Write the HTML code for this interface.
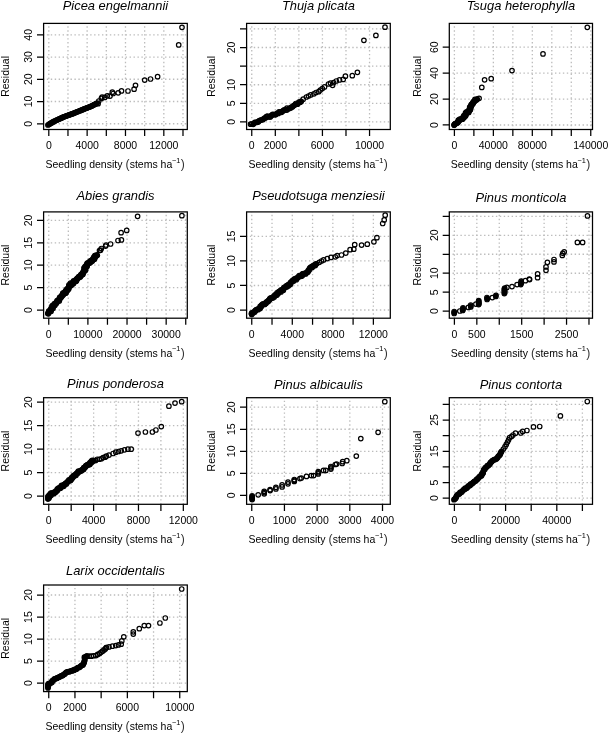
<!DOCTYPE html><html><head><meta charset="utf-8"><style>html,body{margin:0;padding:0;background:#fff;}svg{display:block;will-change:transform;}text{font-family:"Liberation Sans",sans-serif;fill:#000;}</style></head><body>
<svg width="609" height="734" viewBox="0 0 609 734">
<rect width="609" height="734" fill="#fff"/>
<path d="M48.8 23.4V129.5M67.97 23.4V129.5M87.14 23.4V129.5M106.31 23.4V129.5M125.48 23.4V129.5M144.65 23.4V129.5M163.82 23.4V129.5M182.99 23.4V129.5" stroke="#bcbcbc" stroke-width="1.3" stroke-dasharray="1.4 2.54" stroke-dashoffset="1.0" fill="none"/>
<path d="M43.6 123.75H187.3M43.6 101.51H187.3M43.6 79.27H187.3M43.6 57.03H187.3M43.6 34.79H187.3" stroke="#bcbcbc" stroke-width="1.3" stroke-dasharray="1.4 2.54" stroke-dashoffset="0.7" fill="none"/>
<path d="M47.9 125 L53.9 121.4 L63.7 116.9 L73.6 113.3 L83.4 109.3 L91.3 106.2 L97.2 103.1" stroke="#000" stroke-width="2.6" stroke-linecap="round" stroke-linejoin="round" fill="none"/>
<g fill="none" stroke="#000" stroke-width="1.2"><circle cx="182" cy="27.3" r="2.25"/><circle cx="178.7" cy="44.9" r="2.25"/><circle cx="157.6" cy="76.7" r="2.25"/><circle cx="150.5" cy="79" r="2.25"/><circle cx="144.7" cy="80.1" r="2.25"/><circle cx="135.5" cy="85.3" r="2.25"/><circle cx="134.1" cy="89.2" r="2.25"/><circle cx="128" cy="91" r="2.25"/><circle cx="121.5" cy="90.9" r="2.25"/><circle cx="118.2" cy="92.8" r="2.25"/><circle cx="113.2" cy="93.5" r="2.25"/><circle cx="112.3" cy="92.2" r="2.25"/><circle cx="110" cy="96.1" r="2.25"/><circle cx="107.3" cy="95.8" r="2.25"/><circle cx="104.7" cy="97.4" r="2.25"/><circle cx="102.1" cy="97.1" r="2.25"/><circle cx="101.4" cy="98.4" r="2.25"/><circle cx="98.8" cy="101" r="2.25"/><circle cx="98.1" cy="103.7" r="2.25"/><circle cx="47.9" cy="125" r="2.25"/><circle cx="48.76" cy="124.49" r="2.25"/><circle cx="49.61" cy="123.97" r="2.25"/><circle cx="50.47" cy="123.46" r="2.25"/><circle cx="51.33" cy="122.94" r="2.25"/><circle cx="52.19" cy="122.43" r="2.25"/><circle cx="53.04" cy="121.91" r="2.25"/><circle cx="53.9" cy="121.4" r="2.25"/><circle cx="54.79" cy="120.99" r="2.25"/><circle cx="55.68" cy="120.58" r="2.25"/><circle cx="56.57" cy="120.17" r="2.25"/><circle cx="57.46" cy="119.76" r="2.25"/><circle cx="58.35" cy="119.35" r="2.25"/><circle cx="59.25" cy="118.95" r="2.25"/><circle cx="60.14" cy="118.54" r="2.25"/><circle cx="61.03" cy="118.13" r="2.25"/><circle cx="61.92" cy="117.72" r="2.25"/><circle cx="62.81" cy="117.31" r="2.25"/><circle cx="63.7" cy="116.9" r="2.25"/><circle cx="64.6" cy="116.57" r="2.25"/><circle cx="65.5" cy="116.25" r="2.25"/><circle cx="66.4" cy="115.92" r="2.25"/><circle cx="67.3" cy="115.59" r="2.25"/><circle cx="68.2" cy="115.26" r="2.25"/><circle cx="69.1" cy="114.94" r="2.25"/><circle cx="70" cy="114.61" r="2.25"/><circle cx="70.9" cy="114.28" r="2.25"/><circle cx="71.8" cy="113.95" r="2.25"/><circle cx="72.7" cy="113.63" r="2.25"/><circle cx="73.6" cy="113.3" r="2.25"/><circle cx="74.49" cy="112.94" r="2.25"/><circle cx="75.38" cy="112.57" r="2.25"/><circle cx="76.27" cy="112.21" r="2.25"/><circle cx="77.16" cy="111.85" r="2.25"/><circle cx="78.05" cy="111.48" r="2.25"/><circle cx="78.95" cy="111.12" r="2.25"/><circle cx="79.84" cy="110.75" r="2.25"/><circle cx="80.73" cy="110.39" r="2.25"/><circle cx="81.62" cy="110.03" r="2.25"/><circle cx="82.51" cy="109.66" r="2.25"/><circle cx="83.4" cy="109.3" r="2.25"/><circle cx="84.28" cy="108.96" r="2.25"/><circle cx="85.16" cy="108.61" r="2.25"/><circle cx="86.03" cy="108.27" r="2.25"/><circle cx="86.91" cy="107.92" r="2.25"/><circle cx="87.79" cy="107.58" r="2.25"/><circle cx="88.67" cy="107.23" r="2.25"/><circle cx="89.54" cy="106.89" r="2.25"/><circle cx="90.42" cy="106.54" r="2.25"/><circle cx="91.3" cy="106.2" r="2.25"/><circle cx="92.14" cy="105.76" r="2.25"/><circle cx="92.99" cy="105.31" r="2.25"/><circle cx="93.83" cy="104.87" r="2.25"/><circle cx="94.67" cy="104.43" r="2.25"/><circle cx="95.51" cy="103.99" r="2.25"/><circle cx="96.36" cy="103.54" r="2.25"/><circle cx="97.2" cy="103.1" r="2.25"/></g>
<path d="M48.8 129.5v6.6M67.97 129.5v6.6M87.14 129.5v6.6M106.31 129.5v6.6M125.48 129.5v6.6M144.65 129.5v6.6M163.82 129.5v6.6M182.99 129.5v6.6M43.6 123.75h-6.6M43.6 101.51h-6.6M43.6 79.27h-6.6M43.6 57.03h-6.6M43.6 34.79h-6.6" stroke="#000" stroke-width="1.25" fill="none"/>
<rect x="43.6" y="23.4" width="143.7" height="106.1" stroke="#000" stroke-width="1.25" fill="none"/>
<text x="48.8" y="149.2" font-size="10.5" text-anchor="middle">0</text>
<text x="87.14" y="149.2" font-size="10.5" text-anchor="middle">4000</text>
<text x="125.48" y="149.2" font-size="10.5" text-anchor="middle">8000</text>
<text x="163.82" y="149.2" font-size="10.5" text-anchor="middle">12000</text>
<text transform="translate(31.8 123.75) rotate(-90)" font-size="10.5" text-anchor="middle">0</text>
<text transform="translate(31.8 101.51) rotate(-90)" font-size="10.5" text-anchor="middle">10</text>
<text transform="translate(31.8 79.27) rotate(-90)" font-size="10.5" text-anchor="middle">20</text>
<text transform="translate(31.8 57.03) rotate(-90)" font-size="10.5" text-anchor="middle">30</text>
<text transform="translate(31.8 34.79) rotate(-90)" font-size="10.5" text-anchor="middle">40</text>
<text x="115.45" y="10.2" font-size="12.9" font-style="italic" text-anchor="middle">Picea engelmannii</text>
<text y="168.1" font-size="10.5"><tspan x="45.4">Seedling density</tspan><tspan x="125.5" font-size="12.2" fill="#333">(</tspan><tspan x="129.7">stems ha</tspan><tspan x="172" y="162.7" font-size="7.35">−1</tspan><tspan x="180.8" y="168.1" font-size="12.2" fill="#333">)</tspan></text>
<text transform="translate(9.2 76.45) rotate(-90)" font-size="10.5" text-anchor="middle">Residual</text>
<path d="M251.75 23.4V129.5M275.31 23.4V129.5M298.87 23.4V129.5M322.43 23.4V129.5M345.99 23.4V129.5M369.55 23.4V129.5" stroke="#bcbcbc" stroke-width="1.3" stroke-dasharray="1.4 2.54" stroke-dashoffset="1.0" fill="none"/>
<path d="M246.6 121.95H390.3M246.6 103.34H390.3M246.6 84.73H390.3M246.6 66.12H390.3M246.6 47.51H390.3M246.6 28.9H390.3" stroke="#bcbcbc" stroke-width="1.3" stroke-dasharray="1.4 2.54" stroke-dashoffset="0.7" fill="none"/>
<path d="M250.9 124.9 L265.7 117.8 L285.4 109.9 L301.1 101.6" stroke="#000" stroke-width="2.4" stroke-linecap="round" stroke-linejoin="round" fill="none"/>
<g fill="none" stroke="#000" stroke-width="1.2"><circle cx="332.6" cy="85.3" r="2.25"/><circle cx="333.6" cy="82.6" r="2.25"/><circle cx="336.3" cy="81" r="2.25"/><circle cx="339.5" cy="79.9" r="2.25"/><circle cx="343.2" cy="79.4" r="2.25"/><circle cx="345.4" cy="76.2" r="2.25"/><circle cx="352.3" cy="75.7" r="2.25"/><circle cx="357.4" cy="72.3" r="2.25"/><circle cx="363.9" cy="40.3" r="2.25"/><circle cx="375.9" cy="35.4" r="2.25"/><circle cx="385" cy="27.2" r="2.25"/><circle cx="324.5" cy="86.9" r="2.25"/><circle cx="320.3" cy="90.1" r="2.25"/><circle cx="318.7" cy="91.7" r="2.25"/><circle cx="313.9" cy="93.8" r="2.25"/><circle cx="310.7" cy="94.9" r="2.25"/><circle cx="306.4" cy="97" r="2.25"/><circle cx="303.2" cy="99.2" r="2.25"/><circle cx="301.1" cy="101.3" r="2.25"/><circle cx="308.5" cy="96" r="2.25"/><circle cx="316" cy="92.5" r="2.25"/><circle cx="322.3" cy="88.6" r="2.25"/><circle cx="328.5" cy="84" r="2.25"/><circle cx="330.5" cy="83.2" r="2.25"/><circle cx="250.54" cy="124.14" r="2.25"/><circle cx="251.76" cy="123.98" r="2.25"/><circle cx="253.25" cy="124.37" r="2.25"/><circle cx="254" cy="123.24" r="2.25"/><circle cx="254.87" cy="122.34" r="2.25"/><circle cx="256.22" cy="122.44" r="2.25"/><circle cx="257.4" cy="122.19" r="2.25"/><circle cx="258.44" cy="121.63" r="2.25"/><circle cx="259.26" cy="120.64" r="2.25"/><circle cx="260.37" cy="120.24" r="2.25"/><circle cx="261.48" cy="119.84" r="2.25"/><circle cx="262.75" cy="119.77" r="2.25"/><circle cx="263.6" cy="118.85" r="2.25"/><circle cx="264.56" cy="118.13" r="2.25"/><circle cx="265.69" cy="117.78" r="2.25"/><circle cx="266.42" cy="116.6" r="2.25"/><circle cx="267.47" cy="116.21" r="2.25"/><circle cx="268.95" cy="116.89" r="2.25"/><circle cx="270.17" cy="116.94" r="2.25"/><circle cx="270.95" cy="115.88" r="2.25"/><circle cx="271.85" cy="115.13" r="2.25"/><circle cx="272.74" cy="114.34" r="2.25"/><circle cx="274" cy="114.48" r="2.25"/><circle cx="275.35" cy="114.86" r="2.25"/><circle cx="276.25" cy="114.09" r="2.25"/><circle cx="277.13" cy="113.29" r="2.25"/><circle cx="278.38" cy="113.41" r="2.25"/><circle cx="279" cy="111.95" r="2.25"/><circle cx="280.23" cy="112" r="2.25"/><circle cx="281.56" cy="112.32" r="2.25"/><circle cx="282.34" cy="111.28" r="2.25"/><circle cx="283.3" cy="110.66" r="2.25"/><circle cx="284.21" cy="109.93" r="2.25"/><circle cx="285.44" cy="109.98" r="2.25"/><circle cx="286.77" cy="110.11" r="2.25"/><circle cx="286.95" cy="108.08" r="2.25"/><circle cx="288.58" cy="108.8" r="2.25"/><circle cx="289.59" cy="108.33" r="2.25"/><circle cx="290.63" cy="107.92" r="2.25"/><circle cx="291.49" cy="107.17" r="2.25"/><circle cx="292.53" cy="106.76" r="2.25"/><circle cx="293.27" cy="105.78" r="2.25"/><circle cx="294.28" cy="105.33" r="2.25"/><circle cx="295.15" cy="104.59" r="2.25"/><circle cx="295.82" cy="103.49" r="2.25"/><circle cx="297.49" cy="104.26" r="2.25"/><circle cx="298.22" cy="103.27" r="2.25"/><circle cx="298.88" cy="102.16" r="2.25"/><circle cx="300.12" cy="102.13" r="2.25"/><circle cx="301.1" cy="101.6" r="2.25"/></g>
<path d="M251.75 129.5v6.6M275.31 129.5v6.6M298.87 129.5v6.6M322.43 129.5v6.6M345.99 129.5v6.6M369.55 129.5v6.6M246.6 121.95h-6.6M246.6 103.34h-6.6M246.6 84.73h-6.6M246.6 66.12h-6.6M246.6 47.51h-6.6M246.6 28.9h-6.6" stroke="#000" stroke-width="1.25" fill="none"/>
<rect x="246.6" y="23.4" width="143.7" height="106.1" stroke="#000" stroke-width="1.25" fill="none"/>
<text x="251.75" y="149.2" font-size="10.5" text-anchor="middle">0</text>
<text x="275.31" y="149.2" font-size="10.5" text-anchor="middle">2000</text>
<text x="322.43" y="149.2" font-size="10.5" text-anchor="middle">6000</text>
<text x="369.55" y="149.2" font-size="10.5" text-anchor="middle">10000</text>
<text transform="translate(234.8 121.95) rotate(-90)" font-size="10.5" text-anchor="middle">0</text>
<text transform="translate(234.8 103.34) rotate(-90)" font-size="10.5" text-anchor="middle">5</text>
<text transform="translate(234.8 84.73) rotate(-90)" font-size="10.5" text-anchor="middle">10</text>
<text transform="translate(234.8 47.51) rotate(-90)" font-size="10.5" text-anchor="middle">20</text>
<text x="318.45" y="10.2" font-size="12.9" font-style="italic" text-anchor="middle">Thuja plicata</text>
<text y="168.1" font-size="10.5"><tspan x="248.4">Seedling density</tspan><tspan x="328.5" font-size="12.2" fill="#333">(</tspan><tspan x="332.7">stems ha</tspan><tspan x="375" y="162.7" font-size="7.35">−1</tspan><tspan x="383.8" y="168.1" font-size="12.2" fill="#333">)</tspan></text>
<text transform="translate(215.4 76.45) rotate(-90)" font-size="10.5" text-anchor="middle">Residual</text>
<path d="M454.4 23.4V129.5M473.88 23.4V129.5M493.36 23.4V129.5M512.84 23.4V129.5M532.32 23.4V129.5M551.8 23.4V129.5M571.28 23.4V129.5M590.76 23.4V129.5" stroke="#bcbcbc" stroke-width="1.3" stroke-dasharray="1.4 2.54" stroke-dashoffset="1.0" fill="none"/>
<path d="M449.3 124.98H592.5M449.3 99.04H592.5M449.3 73.1H592.5M449.3 47.16H592.5" stroke="#bcbcbc" stroke-width="1.3" stroke-dasharray="1.4 2.54" stroke-dashoffset="0.7" fill="none"/>
<path d="M454.2 125 L460.5 119.8 L466.2 114 L469.7 110.6 L471.4 106 L473.1 102.5 L476.6 99.7" stroke="#000" stroke-width="5.9" stroke-linecap="round" stroke-linejoin="round" fill="none"/>
<g fill="none" stroke="#000" stroke-width="1.2"><circle cx="587.3" cy="27.3" r="2.25"/><circle cx="543" cy="53.9" r="2.25"/><circle cx="512" cy="70.6" r="2.25"/><circle cx="491.2" cy="78.7" r="2.25"/><circle cx="484.6" cy="79.8" r="2.25"/><circle cx="481.8" cy="87.4" r="2.25"/><circle cx="479.1" cy="98.3" r="2.25"/><circle cx="477.2" cy="99.1" r="2.25"/><circle cx="473.7" cy="102" r="2.25"/><circle cx="454.18" cy="124.97" r="2.25"/><circle cx="454.66" cy="124.14" r="2.25"/><circle cx="455.35" cy="123.54" r="2.25"/><circle cx="456.36" cy="123.34" r="2.25"/><circle cx="457.2" cy="122.94" r="2.25"/><circle cx="457.89" cy="122.34" r="2.25"/><circle cx="458.33" cy="121.45" r="2.25"/><circle cx="458.32" cy="120.01" r="2.25"/><circle cx="459.35" cy="119.84" r="2.25"/><circle cx="459.9" cy="119.21" r="2.25"/><circle cx="461.29" cy="119.31" r="2.25"/><circle cx="462.44" cy="119.17" r="2.25"/><circle cx="462.95" cy="118.41" r="2.25"/><circle cx="463.58" cy="117.76" r="2.25"/><circle cx="464.25" cy="117.15" r="2.25"/><circle cx="463.85" cy="115.49" r="2.25"/><circle cx="465.57" cy="115.91" r="2.25"/><circle cx="465.89" cy="114.96" r="2.25"/><circle cx="465.44" cy="113.22" r="2.25"/><circle cx="466.02" cy="112.42" r="2.25"/><circle cx="466.72" cy="111.73" r="2.25"/><circle cx="468.76" cy="112.44" r="2.25"/><circle cx="468.55" cy="110.81" r="2.25"/><circle cx="468.75" cy="110.25" r="2.25"/><circle cx="470.34" cy="109.79" r="2.25"/><circle cx="470" cy="108.62" r="2.25"/><circle cx="469.67" cy="107.45" r="2.25"/><circle cx="470.23" cy="106.61" r="2.25"/><circle cx="471.46" cy="106.03" r="2.25"/><circle cx="471.05" cy="104.75" r="2.25"/><circle cx="471.72" cy="103.99" r="2.25"/><circle cx="473.17" cy="103.62" r="2.25"/><circle cx="473.03" cy="102.41" r="2.25"/><circle cx="473.69" cy="101.44" r="2.25"/><circle cx="474.81" cy="101.05" r="2.25"/><circle cx="474.95" cy="99.43" r="2.25"/><circle cx="476.6" cy="99.7" r="2.25"/></g>
<path d="M454.4 129.5v6.6M473.88 129.5v6.6M493.36 129.5v6.6M512.84 129.5v6.6M532.32 129.5v6.6M551.8 129.5v6.6M571.28 129.5v6.6M590.76 129.5v6.6M449.3 124.98h-6.6M449.3 99.04h-6.6M449.3 73.1h-6.6M449.3 47.16h-6.6" stroke="#000" stroke-width="1.25" fill="none"/>
<rect x="449.3" y="23.4" width="143.2" height="106.1" stroke="#000" stroke-width="1.25" fill="none"/>
<text x="454.4" y="149.2" font-size="10.5" text-anchor="middle">0</text>
<text x="493.36" y="149.2" font-size="10.5" text-anchor="middle">40000</text>
<text x="532.32" y="149.2" font-size="10.5" text-anchor="middle">80000</text>
<text x="590.76" y="149.2" font-size="10.5" text-anchor="middle">140000</text>
<text transform="translate(438.2 124.98) rotate(-90)" font-size="10.5" text-anchor="middle">0</text>
<text transform="translate(438.2 99.04) rotate(-90)" font-size="10.5" text-anchor="middle">20</text>
<text transform="translate(438.2 73.1) rotate(-90)" font-size="10.5" text-anchor="middle">40</text>
<text transform="translate(438.2 47.16) rotate(-90)" font-size="10.5" text-anchor="middle">60</text>
<text x="520.9" y="10" font-size="12.9" font-style="italic" text-anchor="middle">Tsuga heterophylla</text>
<text y="168.1" font-size="10.5"><tspan x="450.85">Seedling density</tspan><tspan x="530.95" font-size="12.2" fill="#333">(</tspan><tspan x="535.15">stems ha</tspan><tspan x="577.45" y="162.7" font-size="7.35">−1</tspan><tspan x="586.25" y="168.1" font-size="12.2" fill="#333">)</tspan></text>
<text transform="translate(420.5 76.45) rotate(-90)" font-size="10.5" text-anchor="middle">Residual</text>
<path d="M48.75 211.9V318.2M68.32 211.9V318.2M87.89 211.9V318.2M107.46 211.9V318.2M127.03 211.9V318.2M146.6 211.9V318.2M166.17 211.9V318.2M185.74 211.9V318.2" stroke="#bcbcbc" stroke-width="1.3" stroke-dasharray="1.4 2.54" stroke-dashoffset="1.0" fill="none"/>
<path d="M43.6 310H187.3M43.6 287.61H187.3M43.6 265.22H187.3M43.6 242.83H187.3M43.6 220.44H187.3" stroke="#bcbcbc" stroke-width="1.3" stroke-dasharray="1.4 2.54" stroke-dashoffset="0.7" fill="none"/>
<path d="M48.2 313.6 L54.5 304.8 L60.2 297.9 L66 291 L70.6 284.7 L76.3 279.5 L82.1 274.9 L84.4 270.3 L86.1 265.7 L89 262.2 L92.4 259.9 L94.7 257.1 L97 255.3" stroke="#000" stroke-width="6.1" stroke-linecap="round" stroke-linejoin="round" fill="none"/>
<g fill="none" stroke="#000" stroke-width="1.2"><circle cx="181.9" cy="215.7" r="2.25"/><circle cx="137.6" cy="216.3" r="2.25"/><circle cx="126.7" cy="230.4" r="2.25"/><circle cx="121.1" cy="232.7" r="2.25"/><circle cx="121.4" cy="239.9" r="2.25"/><circle cx="118" cy="240.5" r="2.25"/><circle cx="110.6" cy="244" r="2.25"/><circle cx="106" cy="245" r="2.25"/><circle cx="101.3" cy="248.5" r="2.25"/><circle cx="99.5" cy="250.5" r="2.25"/><circle cx="100.5" cy="250.2" r="2.25"/><circle cx="105.6" cy="246.1" r="2.25"/><circle cx="47.97" cy="313.43" r="2.25"/><circle cx="48.56" cy="312.75" r="2.25"/><circle cx="48.62" cy="311.68" r="2.25"/><circle cx="48.98" cy="310.83" r="2.25"/><circle cx="51.11" cy="311.25" r="2.25"/><circle cx="50.85" cy="309.95" r="2.25"/><circle cx="50.76" cy="308.78" r="2.25"/><circle cx="52.09" cy="308.62" r="2.25"/><circle cx="53.04" cy="308.19" r="2.25"/><circle cx="51.95" cy="306.3" r="2.25"/><circle cx="52.47" cy="305.57" r="2.25"/><circle cx="53.26" cy="305.02" r="2.25"/><circle cx="54.92" cy="305.15" r="2.25"/><circle cx="54.48" cy="303.49" r="2.25"/><circle cx="56.16" cy="303.59" r="2.25"/><circle cx="56.74" cy="302.78" r="2.25"/><circle cx="57.12" cy="301.8" r="2.25"/><circle cx="57.13" cy="300.52" r="2.25"/><circle cx="59.22" cy="300.96" r="2.25"/><circle cx="59.51" cy="299.91" r="2.25"/><circle cx="59.6" cy="298.69" r="2.25"/><circle cx="59.67" cy="297.45" r="2.25"/><circle cx="61.06" cy="297.45" r="2.25"/><circle cx="61.16" cy="296.35" r="2.25"/><circle cx="62.09" cy="295.95" r="2.25"/><circle cx="62.18" cy="294.85" r="2.25"/><circle cx="63.35" cy="294.66" r="2.25"/><circle cx="62.84" cy="293.05" r="2.25"/><circle cx="63.87" cy="292.75" r="2.25"/><circle cx="65.74" cy="293.13" r="2.25"/><circle cx="66.14" cy="292.29" r="2.25"/><circle cx="65.61" cy="290.71" r="2.25"/><circle cx="67.3" cy="290.74" r="2.25"/><circle cx="66.77" cy="289.15" r="2.25"/><circle cx="68.61" cy="289.29" r="2.25"/><circle cx="68.79" cy="288.21" r="2.25"/><circle cx="68.71" cy="286.94" r="2.25"/><circle cx="68.95" cy="285.91" r="2.25"/><circle cx="69.03" cy="284.76" r="2.25"/><circle cx="71.24" cy="285.4" r="2.25"/><circle cx="70.53" cy="283.2" r="2.25"/><circle cx="72.56" cy="283.99" r="2.25"/><circle cx="73.52" cy="283.6" r="2.25"/><circle cx="73.57" cy="282.23" r="2.25"/><circle cx="73.61" cy="280.84" r="2.25"/><circle cx="75.49" cy="281.48" r="2.25"/><circle cx="76.39" cy="281.03" r="2.25"/><circle cx="76.62" cy="279.9" r="2.25"/><circle cx="77.04" cy="278.94" r="2.25"/><circle cx="77.56" cy="278.11" r="2.25"/><circle cx="78.24" cy="277.48" r="2.25"/><circle cx="78.74" cy="276.62" r="2.25"/><circle cx="80.2" cy="276.97" r="2.25"/><circle cx="80.55" cy="275.92" r="2.25"/><circle cx="80.9" cy="274.88" r="2.25"/><circle cx="81.22" cy="274.46" r="2.25"/><circle cx="82.93" cy="274.17" r="2.25"/><circle cx="82.56" cy="272.83" r="2.25"/><circle cx="83.48" cy="272.14" r="2.25"/><circle cx="83.55" cy="271.02" r="2.25"/><circle cx="85.27" cy="270.62" r="2.25"/><circle cx="85.68" cy="269.73" r="2.25"/><circle cx="83.95" cy="268.04" r="2.25"/><circle cx="84.72" cy="267.28" r="2.25"/><circle cx="85.36" cy="266.47" r="2.25"/><circle cx="87.04" cy="266.48" r="2.25"/><circle cx="87.22" cy="265.45" r="2.25"/><circle cx="86.95" cy="264.04" r="2.25"/><circle cx="87.29" cy="263.14" r="2.25"/><circle cx="88.76" cy="263.18" r="2.25"/><circle cx="89.47" cy="262.9" r="2.25"/><circle cx="90.46" cy="262.52" r="2.25"/><circle cx="90.48" cy="260.73" r="2.25"/><circle cx="92.09" cy="261.27" r="2.25"/><circle cx="92.76" cy="260.2" r="2.25"/><circle cx="92.95" cy="259.18" r="2.25"/><circle cx="94.49" cy="259.27" r="2.25"/><circle cx="93.61" cy="257.38" r="2.25"/><circle cx="95.05" cy="257.54" r="2.25"/><circle cx="94.83" cy="255.68" r="2.25"/><circle cx="95.72" cy="255.25" r="2.25"/><circle cx="97" cy="255.3" r="2.25"/></g>
<path d="M48.75 318.2v6.6M68.32 318.2v6.6M87.89 318.2v6.6M107.46 318.2v6.6M127.03 318.2v6.6M146.6 318.2v6.6M166.17 318.2v6.6M185.74 318.2v6.6M43.6 310h-6.6M43.6 287.61h-6.6M43.6 265.22h-6.6M43.6 242.83h-6.6M43.6 220.44h-6.6" stroke="#000" stroke-width="1.25" fill="none"/>
<rect x="43.6" y="211.9" width="143.7" height="106.3" stroke="#000" stroke-width="1.25" fill="none"/>
<text x="48.75" y="337.9" font-size="10.5" text-anchor="middle">0</text>
<text x="87.89" y="337.9" font-size="10.5" text-anchor="middle">10000</text>
<text x="127.03" y="337.9" font-size="10.5" text-anchor="middle">20000</text>
<text x="166.17" y="337.9" font-size="10.5" text-anchor="middle">30000</text>
<text transform="translate(31.8 310) rotate(-90)" font-size="10.5" text-anchor="middle">0</text>
<text transform="translate(31.8 287.61) rotate(-90)" font-size="10.5" text-anchor="middle">5</text>
<text transform="translate(31.8 265.22) rotate(-90)" font-size="10.5" text-anchor="middle">10</text>
<text transform="translate(31.8 242.83) rotate(-90)" font-size="10.5" text-anchor="middle">15</text>
<text transform="translate(31.8 220.44) rotate(-90)" font-size="10.5" text-anchor="middle">20</text>
<text x="115.45" y="200.1" font-size="12.9" font-style="italic" text-anchor="middle">Abies grandis</text>
<text y="356.8" font-size="10.5"><tspan x="45.4">Seedling density</tspan><tspan x="125.5" font-size="12.2" fill="#333">(</tspan><tspan x="129.7">stems ha</tspan><tspan x="172" y="351.4" font-size="7.35">−1</tspan><tspan x="180.8" y="356.8" font-size="12.2" fill="#333">)</tspan></text>
<text transform="translate(9.2 265.05) rotate(-90)" font-size="10.5" text-anchor="middle">Residual</text>
<path d="M251.75 211.9V318.2M272.02 211.9V318.2M292.29 211.9V318.2M312.56 211.9V318.2M332.83 211.9V318.2M353.1 211.9V318.2M373.37 211.9V318.2" stroke="#bcbcbc" stroke-width="1.3" stroke-dasharray="1.4 2.54" stroke-dashoffset="1.0" fill="none"/>
<path d="M246.6 310H390.3M246.6 285.48H390.3M246.6 260.96H390.3M246.6 236.44H390.3" stroke="#bcbcbc" stroke-width="1.3" stroke-dasharray="1.4 2.54" stroke-dashoffset="0.7" fill="none"/>
<path d="M251.3 313.8 L259.1 308.1 L272.3 297.5 L282.8 289.7 L292 281.8 L301.2 275.2 L307.7 271.9 L311.7 266.7 L316.5 263.8" stroke="#000" stroke-width="5.4" stroke-linecap="round" stroke-linejoin="round" fill="none"/>
<g fill="none" stroke="#000" stroke-width="1.2"><circle cx="385.2" cy="215.2" r="2.25"/><circle cx="384.2" cy="219.9" r="2.25"/><circle cx="382.7" cy="223.5" r="2.25"/><circle cx="376.9" cy="237.7" r="2.25"/><circle cx="373.9" cy="241.8" r="2.25"/><circle cx="367.3" cy="244.2" r="2.25"/><circle cx="361.6" cy="245.1" r="2.25"/><circle cx="354.7" cy="244.7" r="2.25"/><circle cx="353.8" cy="249.2" r="2.25"/><circle cx="350.1" cy="249.7" r="2.25"/><circle cx="345.8" cy="253.1" r="2.25"/><circle cx="341.5" cy="255" r="2.25"/><circle cx="337.2" cy="255.6" r="2.25"/><circle cx="335.3" cy="256.8" r="2.25"/><circle cx="331" cy="257.4" r="2.25"/><circle cx="327.3" cy="258.6" r="2.25"/><circle cx="319.3" cy="262.3" r="2.25"/><circle cx="323.6" cy="259.9" r="2.25"/><circle cx="321.5" cy="261" r="2.25"/><circle cx="251.74" cy="314.4" r="2.25"/><circle cx="251.78" cy="312.81" r="2.25"/><circle cx="253.14" cy="313.04" r="2.25"/><circle cx="253.75" cy="312.24" r="2.25"/><circle cx="254.78" cy="312.02" r="2.25"/><circle cx="255.06" cy="310.76" r="2.25"/><circle cx="255.81" cy="310.15" r="2.25"/><circle cx="256.54" cy="309.51" r="2.25"/><circle cx="257.93" cy="309.77" r="2.25"/><circle cx="258.43" cy="308.82" r="2.25"/><circle cx="259.61" cy="308.74" r="2.25"/><circle cx="260.27" cy="308.05" r="2.25"/><circle cx="260.16" cy="306.41" r="2.25"/><circle cx="261.36" cy="306.41" r="2.25"/><circle cx="261.59" cy="305.19" r="2.25"/><circle cx="262.25" cy="304.51" r="2.25"/><circle cx="263.02" cy="303.97" r="2.25"/><circle cx="264.65" cy="304.49" r="2.25"/><circle cx="265.29" cy="303.79" r="2.25"/><circle cx="266.07" cy="303.26" r="2.25"/><circle cx="266.25" cy="301.99" r="2.25"/><circle cx="267.3" cy="301.78" r="2.25"/><circle cx="268.22" cy="301.43" r="2.25"/><circle cx="268.5" cy="300.27" r="2.25"/><circle cx="269.45" cy="299.95" r="2.25"/><circle cx="269.79" cy="298.88" r="2.25"/><circle cx="270.36" cy="298.09" r="2.25"/><circle cx="271.3" cy="297.76" r="2.25"/><circle cx="272.72" cy="298.06" r="2.25"/><circle cx="273.12" cy="297.04" r="2.25"/><circle cx="274.26" cy="297" r="2.25"/><circle cx="274.5" cy="295.77" r="2.25"/><circle cx="275.06" cy="294.95" r="2.25"/><circle cx="276.36" cy="295.13" r="2.25"/><circle cx="277.15" cy="294.63" r="2.25"/><circle cx="277.03" cy="292.9" r="2.25"/><circle cx="278.48" cy="293.29" r="2.25"/><circle cx="278.61" cy="291.9" r="2.25"/><circle cx="279.39" cy="291.37" r="2.25"/><circle cx="280.96" cy="291.93" r="2.25"/><circle cx="280.81" cy="290.15" r="2.25"/><circle cx="281.77" cy="289.88" r="2.25"/><circle cx="283.37" cy="290.37" r="2.25"/><circle cx="283.42" cy="288.98" r="2.25"/><circle cx="283.76" cy="287.96" r="2.25"/><circle cx="284.53" cy="287.42" r="2.25"/><circle cx="285.33" cy="286.92" r="2.25"/><circle cx="286.62" cy="286.99" r="2.25"/><circle cx="286.58" cy="285.51" r="2.25"/><circle cx="288.24" cy="286.01" r="2.25"/><circle cx="288.32" cy="284.67" r="2.25"/><circle cx="289.72" cy="284.87" r="2.25"/><circle cx="290.36" cy="284.18" r="2.25"/><circle cx="290.34" cy="282.73" r="2.25"/><circle cx="291" cy="282.07" r="2.25"/><circle cx="291.98" cy="281.77" r="2.25"/><circle cx="292.35" cy="280.67" r="2.25"/><circle cx="293.69" cy="280.92" r="2.25"/><circle cx="293.82" cy="279.48" r="2.25"/><circle cx="294.55" cy="278.88" r="2.25"/><circle cx="296.34" cy="279.76" r="2.25"/><circle cx="296.39" cy="278.2" r="2.25"/><circle cx="297.47" cy="278.09" r="2.25"/><circle cx="298.08" cy="277.33" r="2.25"/><circle cx="298.7" cy="276.58" r="2.25"/><circle cx="299.21" cy="275.66" r="2.25"/><circle cx="300.87" cy="276.35" r="2.25"/><circle cx="301.58" cy="275.95" r="2.25"/><circle cx="302.4" cy="275.54" r="2.25"/><circle cx="302.51" cy="273.75" r="2.25"/><circle cx="303.41" cy="273.51" r="2.25"/><circle cx="304.55" cy="273.74" r="2.25"/><circle cx="305.65" cy="273.91" r="2.25"/><circle cx="306.11" cy="272.79" r="2.25"/><circle cx="307.04" cy="272.61" r="2.25"/><circle cx="307.93" cy="272.08" r="2.25"/><circle cx="307.93" cy="270.89" r="2.25"/><circle cx="308.9" cy="270.46" r="2.25"/><circle cx="309.14" cy="269.46" r="2.25"/><circle cx="309.62" cy="268.65" r="2.25"/><circle cx="309.96" cy="267.73" r="2.25"/><circle cx="310.82" cy="267.2" r="2.25"/><circle cx="312.15" cy="267.44" r="2.25"/><circle cx="312.45" cy="266.14" r="2.25"/><circle cx="313.44" cy="265.97" r="2.25"/><circle cx="314.23" cy="265.47" r="2.25"/><circle cx="315.31" cy="265.45" r="2.25"/><circle cx="315.6" cy="264.11" r="2.25"/><circle cx="316.5" cy="263.8" r="2.25"/></g>
<path d="M251.75 318.2v6.6M272.02 318.2v6.6M292.29 318.2v6.6M312.56 318.2v6.6M332.83 318.2v6.6M353.1 318.2v6.6M373.37 318.2v6.6M246.6 310h-6.6M246.6 285.48h-6.6M246.6 260.96h-6.6M246.6 236.44h-6.6" stroke="#000" stroke-width="1.25" fill="none"/>
<rect x="246.6" y="211.9" width="143.7" height="106.3" stroke="#000" stroke-width="1.25" fill="none"/>
<text x="251.75" y="337.9" font-size="10.5" text-anchor="middle">0</text>
<text x="292.29" y="337.9" font-size="10.5" text-anchor="middle">4000</text>
<text x="332.83" y="337.9" font-size="10.5" text-anchor="middle">8000</text>
<text x="373.37" y="337.9" font-size="10.5" text-anchor="middle">12000</text>
<text transform="translate(234.8 310) rotate(-90)" font-size="10.5" text-anchor="middle">0</text>
<text transform="translate(234.8 285.48) rotate(-90)" font-size="10.5" text-anchor="middle">5</text>
<text transform="translate(234.8 260.96) rotate(-90)" font-size="10.5" text-anchor="middle">10</text>
<text transform="translate(234.8 236.44) rotate(-90)" font-size="10.5" text-anchor="middle">15</text>
<text x="318.45" y="200.1" font-size="12.9" font-style="italic" text-anchor="middle">Pseudotsuga menziesii</text>
<text y="356.8" font-size="10.5"><tspan x="248.4">Seedling density</tspan><tspan x="328.5" font-size="12.2" fill="#333">(</tspan><tspan x="332.7">stems ha</tspan><tspan x="375" y="351.4" font-size="7.35">−1</tspan><tspan x="383.8" y="356.8" font-size="12.2" fill="#333">)</tspan></text>
<text transform="translate(215.4 265.05) rotate(-90)" font-size="10.5" text-anchor="middle">Residual</text>
<path d="M454.4 211.9V318.2M476.83 211.9V318.2M499.26 211.9V318.2M521.69 211.9V318.2M544.12 211.9V318.2M566.55 211.9V318.2M588.98 211.9V318.2" stroke="#bcbcbc" stroke-width="1.3" stroke-dasharray="1.4 2.54" stroke-dashoffset="1.0" fill="none"/>
<path d="M449.3 311.2H592.5M449.3 292.22H592.5M449.3 273.24H592.5M449.3 254.26H592.5M449.3 235.28H592.5M449.3 216.3H592.5" stroke="#bcbcbc" stroke-width="1.3" stroke-dasharray="1.4 2.54" stroke-dashoffset="0.7" fill="none"/>
<path d="M454.3 311.5V313.5" stroke="#000" stroke-width="3.6" stroke-linecap="round" fill="none"/><path d="M462.8 307.9V310.5" stroke="#000" stroke-width="3.6" stroke-linecap="round" fill="none"/><path d="M470.7 305V307" stroke="#000" stroke-width="3.6" stroke-linecap="round" fill="none"/><path d="M478.9 300.6V304.6" stroke="#000" stroke-width="3.6" stroke-linecap="round" fill="none"/><path d="M487.2 297.5V299.5" stroke="#000" stroke-width="3.6" stroke-linecap="round" fill="none"/><path d="M495.8 295.3V296.4" stroke="#000" stroke-width="3.6" stroke-linecap="round" fill="none"/><path d="M504.5 288.2V293.6" stroke="#000" stroke-width="3.6" stroke-linecap="round" fill="none"/><path d="M521 281.1V284.6" stroke="#000" stroke-width="3.6" stroke-linecap="round" fill="none"/>
<g fill="none" stroke="#000" stroke-width="1.2"><circle cx="459.8" cy="311" r="2.25"/><circle cx="468.4" cy="307.4" r="2.25"/><circle cx="475.9" cy="304.1" r="2.25"/><circle cx="492.3" cy="297.6" r="2.25"/><circle cx="506.9" cy="287.4" r="2.25"/><circle cx="512" cy="286.6" r="2.25"/><circle cx="517.1" cy="284.6" r="2.25"/><circle cx="525.4" cy="280.7" r="2.25"/><circle cx="529.3" cy="279.1" r="2.25"/><circle cx="529.6" cy="279.6" r="2.25"/><circle cx="537.6" cy="273.9" r="2.25"/><circle cx="537.6" cy="277.7" r="2.25"/><circle cx="547.4" cy="262.3" r="2.25"/><circle cx="546" cy="266.9" r="2.25"/><circle cx="546" cy="270.3" r="2.25"/><circle cx="554" cy="259.5" r="2.25"/><circle cx="554" cy="261.9" r="2.25"/><circle cx="564.2" cy="251.9" r="2.25"/><circle cx="562.8" cy="253.3" r="2.25"/><circle cx="562.3" cy="255.4" r="2.25"/><circle cx="577.4" cy="242.4" r="2.25"/><circle cx="582.6" cy="242.4" r="2.25"/><circle cx="587.5" cy="215.9" r="2.25"/><circle cx="454.18" cy="311.5" r="2.25"/><circle cx="454.2" cy="312.5" r="2.25"/><circle cx="454.19" cy="313.5" r="2.25"/><circle cx="463.01" cy="307.9" r="2.25"/><circle cx="463.04" cy="308.77" r="2.25"/><circle cx="462.68" cy="309.63" r="2.25"/><circle cx="462.7" cy="310.5" r="2.25"/><circle cx="470.73" cy="305" r="2.25"/><circle cx="470.75" cy="306" r="2.25"/><circle cx="470.76" cy="307" r="2.25"/><circle cx="478.75" cy="300.6" r="2.25"/><circle cx="478.61" cy="301.4" r="2.25"/><circle cx="478.75" cy="302.2" r="2.25"/><circle cx="478.64" cy="303" r="2.25"/><circle cx="478.93" cy="303.8" r="2.25"/><circle cx="478.64" cy="304.6" r="2.25"/><circle cx="486.95" cy="297.5" r="2.25"/><circle cx="487.28" cy="298.5" r="2.25"/><circle cx="487.07" cy="299.5" r="2.25"/><circle cx="495.98" cy="295.3" r="2.25"/><circle cx="495.8" cy="296.4" r="2.25"/><circle cx="504.72" cy="288.2" r="2.25"/><circle cx="504.29" cy="289.1" r="2.25"/><circle cx="504.5" cy="290" r="2.25"/><circle cx="504.68" cy="290.9" r="2.25"/><circle cx="504.25" cy="291.8" r="2.25"/><circle cx="504.77" cy="292.7" r="2.25"/><circle cx="504.3" cy="293.6" r="2.25"/><circle cx="521.17" cy="281.1" r="2.25"/><circle cx="521.29" cy="281.98" r="2.25"/><circle cx="521.19" cy="282.85" r="2.25"/><circle cx="520.89" cy="283.73" r="2.25"/><circle cx="520.76" cy="284.6" r="2.25"/></g>
<path d="M454.4 318.2v6.6M476.83 318.2v6.6M499.26 318.2v6.6M521.69 318.2v6.6M544.12 318.2v6.6M566.55 318.2v6.6M588.98 318.2v6.6M449.3 311.2h-6.6M449.3 292.22h-6.6M449.3 273.24h-6.6M449.3 254.26h-6.6M449.3 235.28h-6.6M449.3 216.3h-6.6" stroke="#000" stroke-width="1.25" fill="none"/>
<rect x="449.3" y="211.9" width="143.2" height="106.3" stroke="#000" stroke-width="1.25" fill="none"/>
<text x="454.4" y="337.9" font-size="10.5" text-anchor="middle">0</text>
<text x="476.83" y="337.9" font-size="10.5" text-anchor="middle">500</text>
<text x="521.69" y="337.9" font-size="10.5" text-anchor="middle">1500</text>
<text x="566.55" y="337.9" font-size="10.5" text-anchor="middle">2500</text>
<text transform="translate(438.2 311.2) rotate(-90)" font-size="10.5" text-anchor="middle">0</text>
<text transform="translate(438.2 292.22) rotate(-90)" font-size="10.5" text-anchor="middle">5</text>
<text transform="translate(438.2 273.24) rotate(-90)" font-size="10.5" text-anchor="middle">10</text>
<text transform="translate(438.2 235.28) rotate(-90)" font-size="10.5" text-anchor="middle">20</text>
<text x="520.9" y="201.8" font-size="12.9" font-style="italic" text-anchor="middle">Pinus monticola</text>
<text y="356.8" font-size="10.5"><tspan x="450.85">Seedling density</tspan><tspan x="530.95" font-size="12.2" fill="#333">(</tspan><tspan x="535.15">stems ha</tspan><tspan x="577.45" y="351.4" font-size="7.35">−1</tspan><tspan x="586.25" y="356.8" font-size="12.2" fill="#333">)</tspan></text>
<text transform="translate(420.5 265.05) rotate(-90)" font-size="10.5" text-anchor="middle">Residual</text>
<path d="M48.75 397.7V504.3M71.18 397.7V504.3M93.61 397.7V504.3M116.04 397.7V504.3M138.47 397.7V504.3M160.9 397.7V504.3M183.33 397.7V504.3" stroke="#bcbcbc" stroke-width="1.3" stroke-dasharray="1.4 2.54" stroke-dashoffset="1.0" fill="none"/>
<path d="M43.6 496H187.3M43.6 472.54H187.3M43.6 449.08H187.3M43.6 425.62H187.3M43.6 402.16H187.3" stroke="#bcbcbc" stroke-width="1.3" stroke-dasharray="1.4 2.54" stroke-dashoffset="0.7" fill="none"/>
<path d="M48 498.8 L48.2 496.9 L50.6 494.6 L57.1 490.1 L63.7 484.9 L70.3 480.2 L76.8 473.5 L83.4 468.8 L87.8 464.6 L93.6 460.7" stroke="#000" stroke-width="5.8" stroke-linecap="round" stroke-linejoin="round" fill="none"/>
<g fill="none" stroke="#000" stroke-width="1.2"><circle cx="181.7" cy="401.7" r="2.25"/><circle cx="175" cy="403.1" r="2.25"/><circle cx="168.9" cy="406.2" r="2.25"/><circle cx="161.3" cy="426.6" r="2.25"/><circle cx="155.9" cy="430" r="2.25"/><circle cx="152.4" cy="432" r="2.25"/><circle cx="145.4" cy="432" r="2.25"/><circle cx="138" cy="433.1" r="2.25"/><circle cx="131.2" cy="449.2" r="2.25"/><circle cx="127.9" cy="449.2" r="2.25"/><circle cx="124.5" cy="449.8" r="2.25"/><circle cx="121.2" cy="450.8" r="2.25"/><circle cx="118.5" cy="451.5" r="2.25"/><circle cx="115.8" cy="452.2" r="2.25"/><circle cx="113.1" cy="453.5" r="2.25"/><circle cx="109" cy="455.1" r="2.25"/><circle cx="106.3" cy="456.2" r="2.25"/><circle cx="48.03" cy="498.8" r="2.25"/><circle cx="49.02" cy="497.95" r="2.25"/><circle cx="47.89" cy="496.57" r="2.25"/><circle cx="49.6" cy="496.76" r="2.25"/><circle cx="49.25" cy="494.8" r="2.25"/><circle cx="51.11" cy="495.34" r="2.25"/><circle cx="50.83" cy="493.19" r="2.25"/><circle cx="51.99" cy="493.14" r="2.25"/><circle cx="53.54" cy="493.64" r="2.25"/><circle cx="54.23" cy="492.9" r="2.25"/><circle cx="55.17" cy="492.52" r="2.25"/><circle cx="55.9" cy="491.84" r="2.25"/><circle cx="56.6" cy="491.11" r="2.25"/><circle cx="57.36" cy="490.43" r="2.25"/><circle cx="57.4" cy="488.97" r="2.25"/><circle cx="58.47" cy="488.83" r="2.25"/><circle cx="58.83" cy="487.78" r="2.25"/><circle cx="60.33" cy="488.16" r="2.25"/><circle cx="61" cy="487.5" r="2.25"/><circle cx="61.16" cy="486.21" r="2.25"/><circle cx="61.64" cy="485.3" r="2.25"/><circle cx="63.6" cy="486.28" r="2.25"/><circle cx="64.09" cy="485.45" r="2.25"/><circle cx="64.5" cy="484.47" r="2.25"/><circle cx="65.22" cy="483.93" r="2.25"/><circle cx="66.35" cy="483.96" r="2.25"/><circle cx="66.57" cy="482.73" r="2.25"/><circle cx="67.23" cy="482.1" r="2.25"/><circle cx="67.89" cy="481.48" r="2.25"/><circle cx="68.52" cy="480.81" r="2.25"/><circle cx="68.96" cy="479.87" r="2.25"/><circle cx="70.53" cy="480.42" r="2.25"/><circle cx="70.82" cy="479.4" r="2.25"/><circle cx="71.71" cy="478.97" r="2.25"/><circle cx="71.56" cy="477.52" r="2.25"/><circle cx="72.67" cy="477.3" r="2.25"/><circle cx="72.98" cy="476.3" r="2.25"/><circle cx="73.61" cy="475.61" r="2.25"/><circle cx="74.47" cy="475.14" r="2.25"/><circle cx="76.02" cy="475.34" r="2.25"/><circle cx="75.99" cy="474.01" r="2.25"/><circle cx="76.67" cy="473.32" r="2.25"/><circle cx="77.68" cy="473.18" r="2.25"/><circle cx="77.93" cy="471.98" r="2.25"/><circle cx="78.37" cy="471.05" r="2.25"/><circle cx="79.77" cy="471.46" r="2.25"/><circle cx="80.47" cy="470.89" r="2.25"/><circle cx="81.39" cy="470.63" r="2.25"/><circle cx="81.85" cy="469.73" r="2.25"/><circle cx="82.9" cy="469.66" r="2.25"/><circle cx="83.75" cy="469.17" r="2.25"/><circle cx="83.74" cy="467.68" r="2.25"/><circle cx="84.86" cy="467.39" r="2.25"/><circle cx="85.57" cy="466.67" r="2.25"/><circle cx="85.92" cy="465.56" r="2.25"/><circle cx="86.93" cy="465.16" r="2.25"/><circle cx="87.87" cy="464.71" r="2.25"/><circle cx="89.13" cy="464.79" r="2.25"/><circle cx="89.97" cy="464.25" r="2.25"/><circle cx="90.01" cy="462.52" r="2.25"/><circle cx="91.29" cy="462.64" r="2.25"/><circle cx="91.39" cy="460.99" r="2.25"/><circle cx="92.25" cy="460.47" r="2.25"/><circle cx="93.6" cy="460.7" r="2.25"/><circle cx="93.6" cy="460.71" r="2.25"/><circle cx="95.61" cy="460.5" r="2.25"/><circle cx="97.3" cy="459.24" r="2.25"/><circle cx="99.38" cy="459.25" r="2.25"/><circle cx="101.35" cy="458.77" r="2.25"/><circle cx="103.11" cy="457.62" r="2.25"/><circle cx="105.1" cy="457.2" r="2.25"/></g>
<path d="M48.75 504.3v6.6M71.18 504.3v6.6M93.61 504.3v6.6M116.04 504.3v6.6M138.47 504.3v6.6M160.9 504.3v6.6M183.33 504.3v6.6M43.6 496h-6.6M43.6 472.54h-6.6M43.6 449.08h-6.6M43.6 425.62h-6.6M43.6 402.16h-6.6" stroke="#000" stroke-width="1.25" fill="none"/>
<rect x="43.6" y="397.7" width="143.7" height="106.6" stroke="#000" stroke-width="1.25" fill="none"/>
<text x="48.75" y="524" font-size="10.5" text-anchor="middle">0</text>
<text x="93.61" y="524" font-size="10.5" text-anchor="middle">4000</text>
<text x="138.47" y="524" font-size="10.5" text-anchor="middle">8000</text>
<text x="183.33" y="524" font-size="10.5" text-anchor="middle">12000</text>
<text transform="translate(31.8 496) rotate(-90)" font-size="10.5" text-anchor="middle">0</text>
<text transform="translate(31.8 472.54) rotate(-90)" font-size="10.5" text-anchor="middle">5</text>
<text transform="translate(31.8 449.08) rotate(-90)" font-size="10.5" text-anchor="middle">10</text>
<text transform="translate(31.8 425.62) rotate(-90)" font-size="10.5" text-anchor="middle">15</text>
<text transform="translate(31.8 402.16) rotate(-90)" font-size="10.5" text-anchor="middle">20</text>
<text x="115.45" y="387.9" font-size="12.9" font-style="italic" text-anchor="middle">Pinus ponderosa</text>
<text y="542.9" font-size="10.5"><tspan x="45.4">Seedling density</tspan><tspan x="125.5" font-size="12.2" fill="#333">(</tspan><tspan x="129.7">stems ha</tspan><tspan x="172" y="537.5" font-size="7.35">−1</tspan><tspan x="180.8" y="542.9" font-size="12.2" fill="#333">)</tspan></text>
<text transform="translate(9.2 451) rotate(-90)" font-size="10.5" text-anchor="middle">Residual</text>
<path d="M251.75 397.7V504.3M284.44 397.7V504.3M317.13 397.7V504.3M349.82 397.7V504.3M382.51 397.7V504.3" stroke="#bcbcbc" stroke-width="1.3" stroke-dasharray="1.4 2.54" stroke-dashoffset="1.0" fill="none"/>
<path d="M246.6 495.4H390.3M246.6 473.35H390.3M246.6 451.3H390.3M246.6 429.25H390.3M246.6 407.2H390.3" stroke="#bcbcbc" stroke-width="1.3" stroke-dasharray="1.4 2.54" stroke-dashoffset="0.7" fill="none"/>
<path d="M252 495.9V499.6" stroke="#000" stroke-width="3.6" stroke-linecap="round" fill="none"/>
<g fill="none" stroke="#000" stroke-width="1.2"><circle cx="258.2" cy="494.8" r="2.25"/><circle cx="264.2" cy="491.4" r="2.25"/><circle cx="264.2" cy="492.6" r="2.25"/><circle cx="264.2" cy="493.8" r="2.25"/><circle cx="270.1" cy="489.7" r="2.25"/><circle cx="270.1" cy="490.6" r="2.25"/><circle cx="275.9" cy="487.3" r="2.25"/><circle cx="275.9" cy="488.9" r="2.25"/><circle cx="282.1" cy="484.9" r="2.25"/><circle cx="282.1" cy="486.9" r="2.25"/><circle cx="288" cy="482.1" r="2.25"/><circle cx="288" cy="483.8" r="2.25"/><circle cx="294.3" cy="479.5" r="2.25"/><circle cx="294.3" cy="480.45" r="2.25"/><circle cx="294.3" cy="481.4" r="2.25"/><circle cx="299.9" cy="478.6" r="2.25"/><circle cx="301.3" cy="478.1" r="2.25"/><circle cx="306.5" cy="476.4" r="2.25"/><circle cx="311.3" cy="475.6" r="2.25"/><circle cx="313.6" cy="475.6" r="2.25"/><circle cx="318.3" cy="471.6" r="2.25"/><circle cx="318.3" cy="472.75" r="2.25"/><circle cx="318.3" cy="473.9" r="2.25"/><circle cx="323.5" cy="470.4" r="2.25"/><circle cx="325.8" cy="470.4" r="2.25"/><circle cx="330.9" cy="466.5" r="2.25"/><circle cx="330.9" cy="467.8" r="2.25"/><circle cx="330.9" cy="469.1" r="2.25"/><circle cx="335.3" cy="464.5" r="2.25"/><circle cx="336.6" cy="464.1" r="2.25"/><circle cx="342.7" cy="461.7" r="2.25"/><circle cx="342.2" cy="463.5" r="2.25"/><circle cx="346.8" cy="460.7" r="2.25"/><circle cx="356.3" cy="456.1" r="2.25"/><circle cx="360.8" cy="438.6" r="2.25"/><circle cx="378.1" cy="432.3" r="2.25"/><circle cx="384.8" cy="401.7" r="2.25"/><circle cx="252.12" cy="495.9" r="2.25"/><circle cx="252.21" cy="496.82" r="2.25"/><circle cx="251.92" cy="497.75" r="2.25"/><circle cx="252.12" cy="498.68" r="2.25"/><circle cx="252.14" cy="499.6" r="2.25"/></g>
<path d="M251.75 504.3v6.6M284.44 504.3v6.6M317.13 504.3v6.6M349.82 504.3v6.6M382.51 504.3v6.6M246.6 495.4h-6.6M246.6 473.35h-6.6M246.6 451.3h-6.6M246.6 429.25h-6.6M246.6 407.2h-6.6" stroke="#000" stroke-width="1.25" fill="none"/>
<rect x="246.6" y="397.7" width="143.7" height="106.6" stroke="#000" stroke-width="1.25" fill="none"/>
<text x="251.75" y="524" font-size="10.5" text-anchor="middle">0</text>
<text x="284.44" y="524" font-size="10.5" text-anchor="middle">1000</text>
<text x="317.13" y="524" font-size="10.5" text-anchor="middle">2000</text>
<text x="349.82" y="524" font-size="10.5" text-anchor="middle">3000</text>
<text x="382.51" y="524" font-size="10.5" text-anchor="middle">4000</text>
<text transform="translate(234.8 495.4) rotate(-90)" font-size="10.5" text-anchor="middle">0</text>
<text transform="translate(234.8 473.35) rotate(-90)" font-size="10.5" text-anchor="middle">5</text>
<text transform="translate(234.8 451.3) rotate(-90)" font-size="10.5" text-anchor="middle">10</text>
<text transform="translate(234.8 429.25) rotate(-90)" font-size="10.5" text-anchor="middle">15</text>
<text transform="translate(234.8 407.2) rotate(-90)" font-size="10.5" text-anchor="middle">20</text>
<text x="318.45" y="389" font-size="12.9" font-style="italic" text-anchor="middle">Pinus albicaulis</text>
<text y="542.9" font-size="10.5"><tspan x="248.4">Seedling density</tspan><tspan x="328.5" font-size="12.2" fill="#333">(</tspan><tspan x="332.7">stems ha</tspan><tspan x="375" y="537.5" font-size="7.35">−1</tspan><tspan x="383.8" y="542.9" font-size="12.2" fill="#333">)</tspan></text>
<text transform="translate(215.4 451) rotate(-90)" font-size="10.5" text-anchor="middle">Residual</text>
<path d="M454.4 397.7V504.3M480 397.7V504.3M505.6 397.7V504.3M531.2 397.7V504.3M556.8 397.7V504.3M582.4 397.7V504.3" stroke="#bcbcbc" stroke-width="1.3" stroke-dasharray="1.4 2.54" stroke-dashoffset="1.0" fill="none"/>
<path d="M449.3 498.2H592.5M449.3 482.56H592.5M449.3 466.92H592.5M449.3 451.28H592.5M449.3 435.64H592.5M449.3 420H592.5M449.3 404.36H592.5" stroke="#bcbcbc" stroke-width="1.3" stroke-dasharray="1.4 2.54" stroke-dashoffset="0.7" fill="none"/>
<path d="M453.9 499.6 L457.4 495.3 L464.8 489 L472.2 483.1 L479.6 477.2 L483.3 472.7 L484 469.8 L488.4 465.3 L492.5 460.8 L496 458.8 L499.4 455 L501.7 451.3" stroke="#000" stroke-width="4.6" stroke-linecap="round" stroke-linejoin="round" fill="none"/>
<g fill="none" stroke="#000" stroke-width="1.2"><circle cx="587.3" cy="401.5" r="2.25"/><circle cx="560.4" cy="415.9" r="2.25"/><circle cx="539.7" cy="426.5" r="2.25"/><circle cx="533.5" cy="426.9" r="2.25"/><circle cx="526.9" cy="430.5" r="2.25"/><circle cx="522.7" cy="431.4" r="2.25"/><circle cx="520.8" cy="433" r="2.25"/><circle cx="515.5" cy="433.2" r="2.25"/><circle cx="513" cy="435" r="2.25"/><circle cx="511.5" cy="436.5" r="2.25"/><circle cx="509.6" cy="437.5" r="2.25"/><circle cx="508.6" cy="439.8" r="2.25"/><circle cx="507.6" cy="442.1" r="2.25"/><circle cx="506.3" cy="444.4" r="2.25"/><circle cx="505" cy="446.7" r="2.25"/><circle cx="503.4" cy="449" r="2.25"/><circle cx="453.97" cy="499.66" r="2.25"/><circle cx="454.76" cy="499.11" r="2.25"/><circle cx="455.37" cy="498.42" r="2.25"/><circle cx="456.01" cy="497.74" r="2.25"/><circle cx="456.29" cy="496.78" r="2.25"/><circle cx="456.57" cy="495.81" r="2.25"/><circle cx="457.24" cy="495.11" r="2.25"/><circle cx="457.96" cy="494.45" r="2.25"/><circle cx="458.93" cy="494.09" r="2.25"/><circle cx="459.79" cy="493.61" r="2.25"/><circle cx="460.07" cy="492.44" r="2.25"/><circle cx="461.22" cy="492.29" r="2.25"/><circle cx="461.98" cy="491.69" r="2.25"/><circle cx="462.48" cy="490.77" r="2.25"/><circle cx="463.33" cy="490.27" r="2.25"/><circle cx="463.84" cy="489.37" r="2.25"/><circle cx="464.94" cy="489.18" r="2.25"/><circle cx="465.25" cy="488.05" r="2.25"/><circle cx="466.58" cy="488.2" r="2.25"/><circle cx="467.21" cy="487.47" r="2.25"/><circle cx="467.84" cy="486.74" r="2.25"/><circle cx="468.36" cy="485.87" r="2.25"/><circle cx="469.5" cy="485.78" r="2.25"/><circle cx="470.27" cy="485.23" r="2.25"/><circle cx="470.5" cy="484" r="2.25"/><circle cx="471.63" cy="483.91" r="2.25"/><circle cx="472.41" cy="483.37" r="2.25"/><circle cx="473.04" cy="482.63" r="2.25"/><circle cx="473.8" cy="482.08" r="2.25"/><circle cx="474.39" cy="481.29" r="2.25"/><circle cx="475.42" cy="481.07" r="2.25"/><circle cx="476.19" cy="480.52" r="2.25"/><circle cx="476.57" cy="479.47" r="2.25"/><circle cx="477.57" cy="479.21" r="2.25"/><circle cx="478.08" cy="478.33" r="2.25"/><circle cx="478.65" cy="477.53" r="2.25"/><circle cx="479.47" cy="477.09" r="2.25"/><circle cx="479.93" cy="476.21" r="2.25"/><circle cx="481.15" cy="475.96" r="2.25"/><circle cx="481.8" cy="475.24" r="2.25"/><circle cx="481.77" cy="473.96" r="2.25"/><circle cx="482.76" cy="473.51" r="2.25"/><circle cx="483.21" cy="472.68" r="2.25"/><circle cx="483.16" cy="471.64" r="2.25"/><circle cx="483.57" cy="470.72" r="2.25"/><circle cx="483.82" cy="469.62" r="2.25"/><circle cx="484.91" cy="469.22" r="2.25"/><circle cx="485.11" cy="467.95" r="2.25"/><circle cx="485.98" cy="467.33" r="2.25"/><circle cx="486.89" cy="466.76" r="2.25"/><circle cx="487.32" cy="465.72" r="2.25"/><circle cx="488.49" cy="465.39" r="2.25"/><circle cx="489.16" cy="464.62" r="2.25"/><circle cx="490.01" cy="464.03" r="2.25"/><circle cx="490.23" cy="462.85" r="2.25"/><circle cx="490.97" cy="462.16" r="2.25"/><circle cx="491.85" cy="461.58" r="2.25"/><circle cx="492.39" cy="460.6" r="2.25"/><circle cx="493.42" cy="460.37" r="2.25"/><circle cx="494.13" cy="459.58" r="2.25"/><circle cx="495.22" cy="459.46" r="2.25"/><circle cx="496.22" cy="458.99" r="2.25"/><circle cx="496.91" cy="458.25" r="2.25"/><circle cx="497.71" cy="457.6" r="2.25"/><circle cx="498.07" cy="456.55" r="2.25"/><circle cx="498.71" cy="455.75" r="2.25"/><circle cx="499.7" cy="455.19" r="2.25"/><circle cx="500.2" cy="454.22" r="2.25"/><circle cx="500.61" cy="453.19" r="2.25"/><circle cx="501.03" cy="452.16" r="2.25"/><circle cx="501.7" cy="451.3" r="2.25"/></g>
<path d="M454.4 504.3v6.6M480 504.3v6.6M505.6 504.3v6.6M531.2 504.3v6.6M556.8 504.3v6.6M582.4 504.3v6.6M449.3 498.2h-6.6M449.3 482.56h-6.6M449.3 466.92h-6.6M449.3 451.28h-6.6M449.3 435.64h-6.6M449.3 420h-6.6M449.3 404.36h-6.6" stroke="#000" stroke-width="1.25" fill="none"/>
<rect x="449.3" y="397.7" width="143.2" height="106.6" stroke="#000" stroke-width="1.25" fill="none"/>
<text x="454.4" y="524" font-size="10.5" text-anchor="middle">0</text>
<text x="505.6" y="524" font-size="10.5" text-anchor="middle">20000</text>
<text x="556.8" y="524" font-size="10.5" text-anchor="middle">40000</text>
<text transform="translate(438.2 498.2) rotate(-90)" font-size="10.5" text-anchor="middle">0</text>
<text transform="translate(438.2 482.56) rotate(-90)" font-size="10.5" text-anchor="middle">5</text>
<text transform="translate(438.2 451.28) rotate(-90)" font-size="10.5" text-anchor="middle">15</text>
<text transform="translate(438.2 420) rotate(-90)" font-size="10.5" text-anchor="middle">25</text>
<text x="520.9" y="388.9" font-size="12.9" font-style="italic" text-anchor="middle">Pinus contorta</text>
<text y="542.9" font-size="10.5"><tspan x="450.85">Seedling density</tspan><tspan x="530.95" font-size="12.2" fill="#333">(</tspan><tspan x="535.15">stems ha</tspan><tspan x="577.45" y="537.5" font-size="7.35">−1</tspan><tspan x="586.25" y="542.9" font-size="12.2" fill="#333">)</tspan></text>
<text transform="translate(420.5 451) rotate(-90)" font-size="10.5" text-anchor="middle">Residual</text>
<path d="M48.75 585V691.6M74.95 585V691.6M101.15 585V691.6M127.35 585V691.6M153.55 585V691.6M179.75 585V691.6" stroke="#bcbcbc" stroke-width="1.3" stroke-dasharray="1.4 2.54" stroke-dashoffset="1.0" fill="none"/>
<path d="M43.6 683.2H187.3M43.6 661.15H187.3M43.6 639.1H187.3M43.6 617.05H187.3M43.6 595H187.3" stroke="#bcbcbc" stroke-width="1.3" stroke-dasharray="1.4 2.54" stroke-dashoffset="0.7" fill="none"/>
<path d="M48.2 688 L48.2 683.7 L51 682.5 L54.5 679.1 L57.9 677.9 L63.7 674.5 L68.3 671.6 L74 669.9 L79.8 667 L83.2 664.7 L84.4 660.7 L84.4 657.2 L86.7 656.1" stroke="#000" stroke-width="4.5" stroke-linecap="round" stroke-linejoin="round" fill="none"/>
<g fill="none" stroke="#000" stroke-width="1.2"><circle cx="181.7" cy="589" r="2.25"/><circle cx="165.3" cy="618" r="2.25"/><circle cx="159.9" cy="623" r="2.25"/><circle cx="148.5" cy="625.6" r="2.25"/><circle cx="144.3" cy="625.6" r="2.25"/><circle cx="139.3" cy="628.7" r="2.25"/><circle cx="133.3" cy="631.8" r="2.25"/><circle cx="133.3" cy="634.1" r="2.25"/><circle cx="123.8" cy="636.8" r="2.25"/><circle cx="121.8" cy="640.9" r="2.25"/><circle cx="121.2" cy="644.2" r="2.25"/><circle cx="118.5" cy="644.9" r="2.25"/><circle cx="115.8" cy="645.6" r="2.25"/><circle cx="112.4" cy="646.2" r="2.25"/><circle cx="109" cy="646.9" r="2.25"/><circle cx="106.3" cy="647.6" r="2.25"/><circle cx="48.01" cy="688" r="2.25"/><circle cx="47.85" cy="686.92" r="2.25"/><circle cx="48.48" cy="685.85" r="2.25"/><circle cx="47.86" cy="684.78" r="2.25"/><circle cx="48.29" cy="683.9" r="2.25"/><circle cx="49.15" cy="683.34" r="2.25"/><circle cx="50.23" cy="683.28" r="2.25"/><circle cx="51.16" cy="682.67" r="2.25"/><circle cx="52" cy="682.13" r="2.25"/><circle cx="52.17" cy="680.91" r="2.25"/><circle cx="53.1" cy="680.46" r="2.25"/><circle cx="53.85" cy="679.83" r="2.25"/><circle cx="54.44" cy="678.94" r="2.25"/><circle cx="55.35" cy="678.8" r="2.25"/><circle cx="56.16" cy="678.38" r="2.25"/><circle cx="57.06" cy="678.22" r="2.25"/><circle cx="57.67" cy="677.51" r="2.25"/><circle cx="58.7" cy="677.37" r="2.25"/><circle cx="59.53" cy="676.89" r="2.25"/><circle cx="60.3" cy="676.29" r="2.25"/><circle cx="61.17" cy="675.88" r="2.25"/><circle cx="62.17" cy="675.69" r="2.25"/><circle cx="62.95" cy="675.13" r="2.25"/><circle cx="63.7" cy="674.49" r="2.25"/><circle cx="64.54" cy="674.13" r="2.25"/><circle cx="65.17" cy="673.44" r="2.25"/><circle cx="65.86" cy="672.82" r="2.25"/><circle cx="66.53" cy="672.19" r="2.25"/><circle cx="67.43" cy="671.91" r="2.25"/><circle cx="68.33" cy="671.68" r="2.25"/><circle cx="69.35" cy="671.65" r="2.25"/><circle cx="70.28" cy="671.32" r="2.25"/><circle cx="71.15" cy="670.76" r="2.25"/><circle cx="72.23" cy="670.89" r="2.25"/><circle cx="73.04" cy="670.15" r="2.25"/><circle cx="74.13" cy="670.17" r="2.25"/><circle cx="74.79" cy="669.41" r="2.25"/><circle cx="75.76" cy="669.27" r="2.25"/><circle cx="76.68" cy="669.05" r="2.25"/><circle cx="77.24" cy="668.09" r="2.25"/><circle cx="78.01" cy="667.56" r="2.25"/><circle cx="79.02" cy="667.51" r="2.25"/><circle cx="79.82" cy="667.02" r="2.25"/><circle cx="80.58" cy="666.32" r="2.25"/><circle cx="81.25" cy="665.48" r="2.25"/><circle cx="82.29" cy="665.19" r="2.25"/><circle cx="83.14" cy="664.68" r="2.25"/><circle cx="83.42" cy="663.68" r="2.25"/><circle cx="84.11" cy="662.79" r="2.25"/><circle cx="84.17" cy="661.72" r="2.25"/><circle cx="84.61" cy="660.7" r="2.25"/><circle cx="84.76" cy="659.53" r="2.25"/><circle cx="84.62" cy="658.37" r="2.25"/><circle cx="84.4" cy="657.19" r="2.25"/><circle cx="85.65" cy="656.85" r="2.25"/><circle cx="86.7" cy="656.1" r="2.25"/><circle cx="86.7" cy="656.21" r="2.25"/><circle cx="89" cy="656.22" r="2.25"/><circle cx="91.31" cy="656.2" r="2.25"/><circle cx="93.59" cy="655.73" r="2.25"/><circle cx="95.96" cy="655.59" r="2.25"/><circle cx="97.66" cy="654.44" r="2.25"/><circle cx="99.51" cy="653.48" r="2.25"/><circle cx="100.97" cy="652.25" r="2.25"/><circle cx="102.53" cy="651.16" r="2.25"/><circle cx="104.04" cy="649.96" r="2.25"/><circle cx="105.27" cy="648.89" r="2.25"/><circle cx="106.3" cy="647.6" r="2.25"/></g>
<path d="M48.75 691.6v6.6M74.95 691.6v6.6M101.15 691.6v6.6M127.35 691.6v6.6M153.55 691.6v6.6M179.75 691.6v6.6M43.6 683.2h-6.6M43.6 661.15h-6.6M43.6 639.1h-6.6M43.6 617.05h-6.6M43.6 595h-6.6" stroke="#000" stroke-width="1.25" fill="none"/>
<rect x="43.6" y="585" width="143.7" height="106.6" stroke="#000" stroke-width="1.25" fill="none"/>
<text x="48.75" y="711.3" font-size="10.5" text-anchor="middle">0</text>
<text x="74.95" y="711.3" font-size="10.5" text-anchor="middle">2000</text>
<text x="127.35" y="711.3" font-size="10.5" text-anchor="middle">6000</text>
<text x="179.75" y="711.3" font-size="10.5" text-anchor="middle">10000</text>
<text transform="translate(31.8 683.2) rotate(-90)" font-size="10.5" text-anchor="middle">0</text>
<text transform="translate(31.8 661.15) rotate(-90)" font-size="10.5" text-anchor="middle">5</text>
<text transform="translate(31.8 639.1) rotate(-90)" font-size="10.5" text-anchor="middle">10</text>
<text transform="translate(31.8 617.05) rotate(-90)" font-size="10.5" text-anchor="middle">15</text>
<text transform="translate(31.8 595) rotate(-90)" font-size="10.5" text-anchor="middle">20</text>
<text x="115.45" y="575.2" font-size="12.9" font-style="italic" text-anchor="middle">Larix occidentalis</text>
<text y="730.2" font-size="10.5"><tspan x="45.4">Seedling density</tspan><tspan x="125.5" font-size="12.2" fill="#333">(</tspan><tspan x="129.7">stems ha</tspan><tspan x="172" y="724.8" font-size="7.35">−1</tspan><tspan x="180.8" y="730.2" font-size="12.2" fill="#333">)</tspan></text>
<text transform="translate(9.2 638.3) rotate(-90)" font-size="10.5" text-anchor="middle">Residual</text>
</svg></body></html>
